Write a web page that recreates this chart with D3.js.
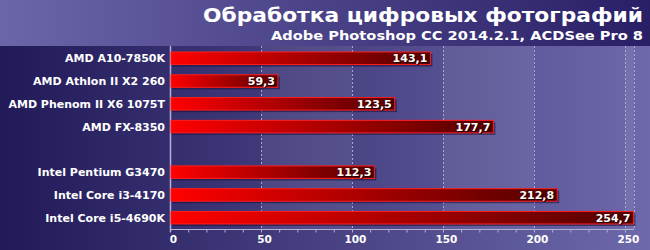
<!DOCTYPE html>
<html>
<head>
<meta charset="utf-8">
<script src="https://cdnjs.cloudflare.com/ajax/libs/d3/7.8.5/d3.min.js"></script>
<style>
  body { margin: 0; background: #221a58; }
  text { font-family: "DejaVu Sans", Verdana, sans-serif; font-weight: bold; }
</style>
</head>
<body>
<div id="chart"></div>
<script>
const categories = ["AMD A10-7850K", "AMD Athlon II X2 260", "AMD Phenom II X6 1075T", "AMD FX-8350", "",
  "Intel Pentium G3470", "Intel Core i3-4170", "Intel Core i5-4690K"]
const values = [143.1, 59.3, 123.5, 177.7, null, 112.3, 212.8, 254.7]
const xTicks = [0, 50, 100, 150, 200, 250]
const title = "Обработка цифровых фотографий"
const subtitle = "Adobe Photoshop CC 2014.2.1, ACDSee Pro 8"

const dimensions = ({
  width: 650,
  height: 250,
  header: 46,
  plot: { left: 170, right: 634, top: 47, bottom: 229 }
})

// spacer row keeps its own key
const keys = categories.map((c, i) => c === "" ? "gap" + i : c)
const rows = keys.map((k, i) => ({ key: k, label: categories[i], value: values[i] }))

const x = d3.scaleLinear()
  .domain([0, 255])
  .range([dimensions.plot.left, dimensions.plot.right])

const y = d3.scaleBand()
  .domain(keys)
  .range([dimensions.plot.top, dimensions.plot.bottom])
  .paddingInner(0.45)
  .paddingOuter(0.22)

const fmt = v => d3.format(".1f")(v).replace(".", ",")

const svg = d3.select("#chart")
  .append("svg")
    .attr("width", dimensions.width)
    .attr("height", dimensions.height)
    .style("display", "block")

const defs = svg.append("defs")

function hGrad(id, c0, c1) {
  const g = defs.append("linearGradient").attr("id", id)
    .attr("x1", "0").attr("x2", "1").attr("y1", "0").attr("y2", "0")
  g.append("stop").attr("offset", "0%").attr("stop-color", c0)
  g.append("stop").attr("offset", "100%").attr("stop-color", c1)
  return g
}
hGrad("bgGrad", "#211958", "#6d69ab")
hGrad("headGrad", "#6b65a9", "#291f66")
hGrad("barGrad", "#ff0000", "#520000")

//  background
svg.append("rect")
  .attr("width", dimensions.width)
  .attr("height", dimensions.height)
  .attr("fill", "url(#bgGrad)")

svg.append("rect")
  .attr("width", dimensions.width)
  .attr("height", dimensions.header)
  .attr("fill", "url(#headGrad)")

// lighter alternating bands between gridlines
const bands = [[50, 100], [150, 200], [250, 255]]
svg.append("g")
  .selectAll("rect")
  .data(bands)
  .enter().append("rect")
    .attr("x", d => x(d[0]))
    .attr("y", dimensions.header)
    .attr("width", d => x(d[1]) - x(d[0]))
    .attr("height", dimensions.plot.bottom - dimensions.header)
    .attr("fill", "#ffffff")
    .attr("opacity", 0.07)

// gridlines
svg.append("g")
  .selectAll("line")
  .data(xTicks.slice(1).concat([255]))
  .enter().append("line")
    .attr("x1", d => Math.round(x(d)) + 0.5)
    .attr("x2", d => Math.round(x(d)) + 0.5)
    .attr("y1", dimensions.header)
    .attr("y2", dimensions.plot.bottom)
    .attr("stroke", "#a9a5d6")
    .attr("stroke-width", 1)
    .attr("stroke-dasharray", "2,2")

// axes
const axisColor = "#b4b1d6"
svg.append("line")
  .attr("x1", dimensions.plot.left + 0.5).attr("x2", dimensions.plot.left + 0.5)
  .attr("y1", dimensions.header).attr("y2", dimensions.plot.bottom + 3)
  .attr("stroke", axisColor).attr("stroke-width", 1.5)

svg.append("line")
  .attr("x1", dimensions.plot.left).attr("x2", dimensions.plot.right)
  .attr("y1", dimensions.plot.bottom + 0.5).attr("y2", dimensions.plot.bottom + 0.5)
  .attr("stroke", axisColor).attr("stroke-width", 1)

const minor = d3.axisBottom(x)
  .tickValues(d3.range(0, 251, 10))
  .tickSize(3)
  .tickFormat("")
const gMinor = svg.append("g")
  .attr("transform", "translate(0," + (dimensions.plot.bottom + 0.5) + ")")
  .call(minor)
gMinor.select(".domain").remove()
gMinor.selectAll("line").attr("stroke", axisColor)

const major = d3.axisBottom(x)
  .tickValues(xTicks)
  .tickSize(0)
  .tickPadding(7)
const gMajor = svg.append("g")
  .attr("transform", "translate(0," + dimensions.plot.bottom + ")")
  .call(major)
gMajor.select(".domain").remove()
gMajor.selectAll("text")
  .attr("fill", "#ffffff")
  .style("font-size", "10.5px")
  .attr("dx", 3)

// category labels
svg.append("g")
  .selectAll("text")
  .data(rows)
  .enter().append("text")
    .attr("x", dimensions.plot.left - 5)
    .attr("y", d => y(d.key) + y.bandwidth() / 2)
    .attr("dy", "0.36em")
    .attr("text-anchor", "end")
    .attr("fill", "#ffffff")
    .style("font-size", "11px")
    .text(d => d.label)

// bars
const data = rows.filter(d => d.value != null)
const bars = svg.append("g")
  .selectAll("g")
  .data(data)
  .enter().append("g")

bars.append("rect")
  .attr("x", x(0) + 2)
  .attr("y", d => y(d.key) + 2)
  .attr("width", d => x(d.value) - x(0))
  .attr("height", y.bandwidth())
  .attr("fill", "#140e3a")
  .attr("opacity", 0.55)

bars.append("rect")
  .attr("x", x(0) + 1)
  .attr("y", d => y(d.key))
  .attr("width", d => x(d.value) - x(0) - 1)
  .attr("height", y.bandwidth())
  .attr("fill", "url(#barGrad)")
  .attr("stroke", "#ff1e1e")
  .attr("stroke-width", 1)

bars.append("text")
  .attr("x", d => x(d.value) - 3 + 1)
  .attr("y", d => y(d.key) + y.bandwidth() / 2 + 1)
  .attr("dy", "0.36em")
  .attr("text-anchor", "end")
  .attr("fill", "#1a0000")
  .style("font-size", "11px")
  .text(d => fmt(d.value))

bars.append("text")
  .attr("x", d => x(d.value) - 3)
  .attr("y", d => y(d.key) + y.bandwidth() / 2)
  .attr("dy", "0.36em")
  .attr("text-anchor", "end")
  .attr("fill", "#ffffff")
  .style("font-size", "11px")
  .text(d => fmt(d.value))

// title (stretched wide like the original)
svg.append("text")
  .attr("x", 643)
  .attr("y", 22)
  .attr("text-anchor", "end")
  .attr("fill", "#ffffff")
  .style("font-size", "20px")
  .attr("textLength", 440)
  .attr("lengthAdjust", "spacingAndGlyphs")
  .text(title)

svg.append("text")
  .attr("x", 643)
  .attr("y", 39.5)
  .attr("text-anchor", "end")
  .attr("fill", "#ffffff")
  .style("font-size", "12px")
  .attr("textLength", 372)
  .attr("lengthAdjust", "spacingAndGlyphs")
  .text(subtitle)
</script>
</body>
</html>
